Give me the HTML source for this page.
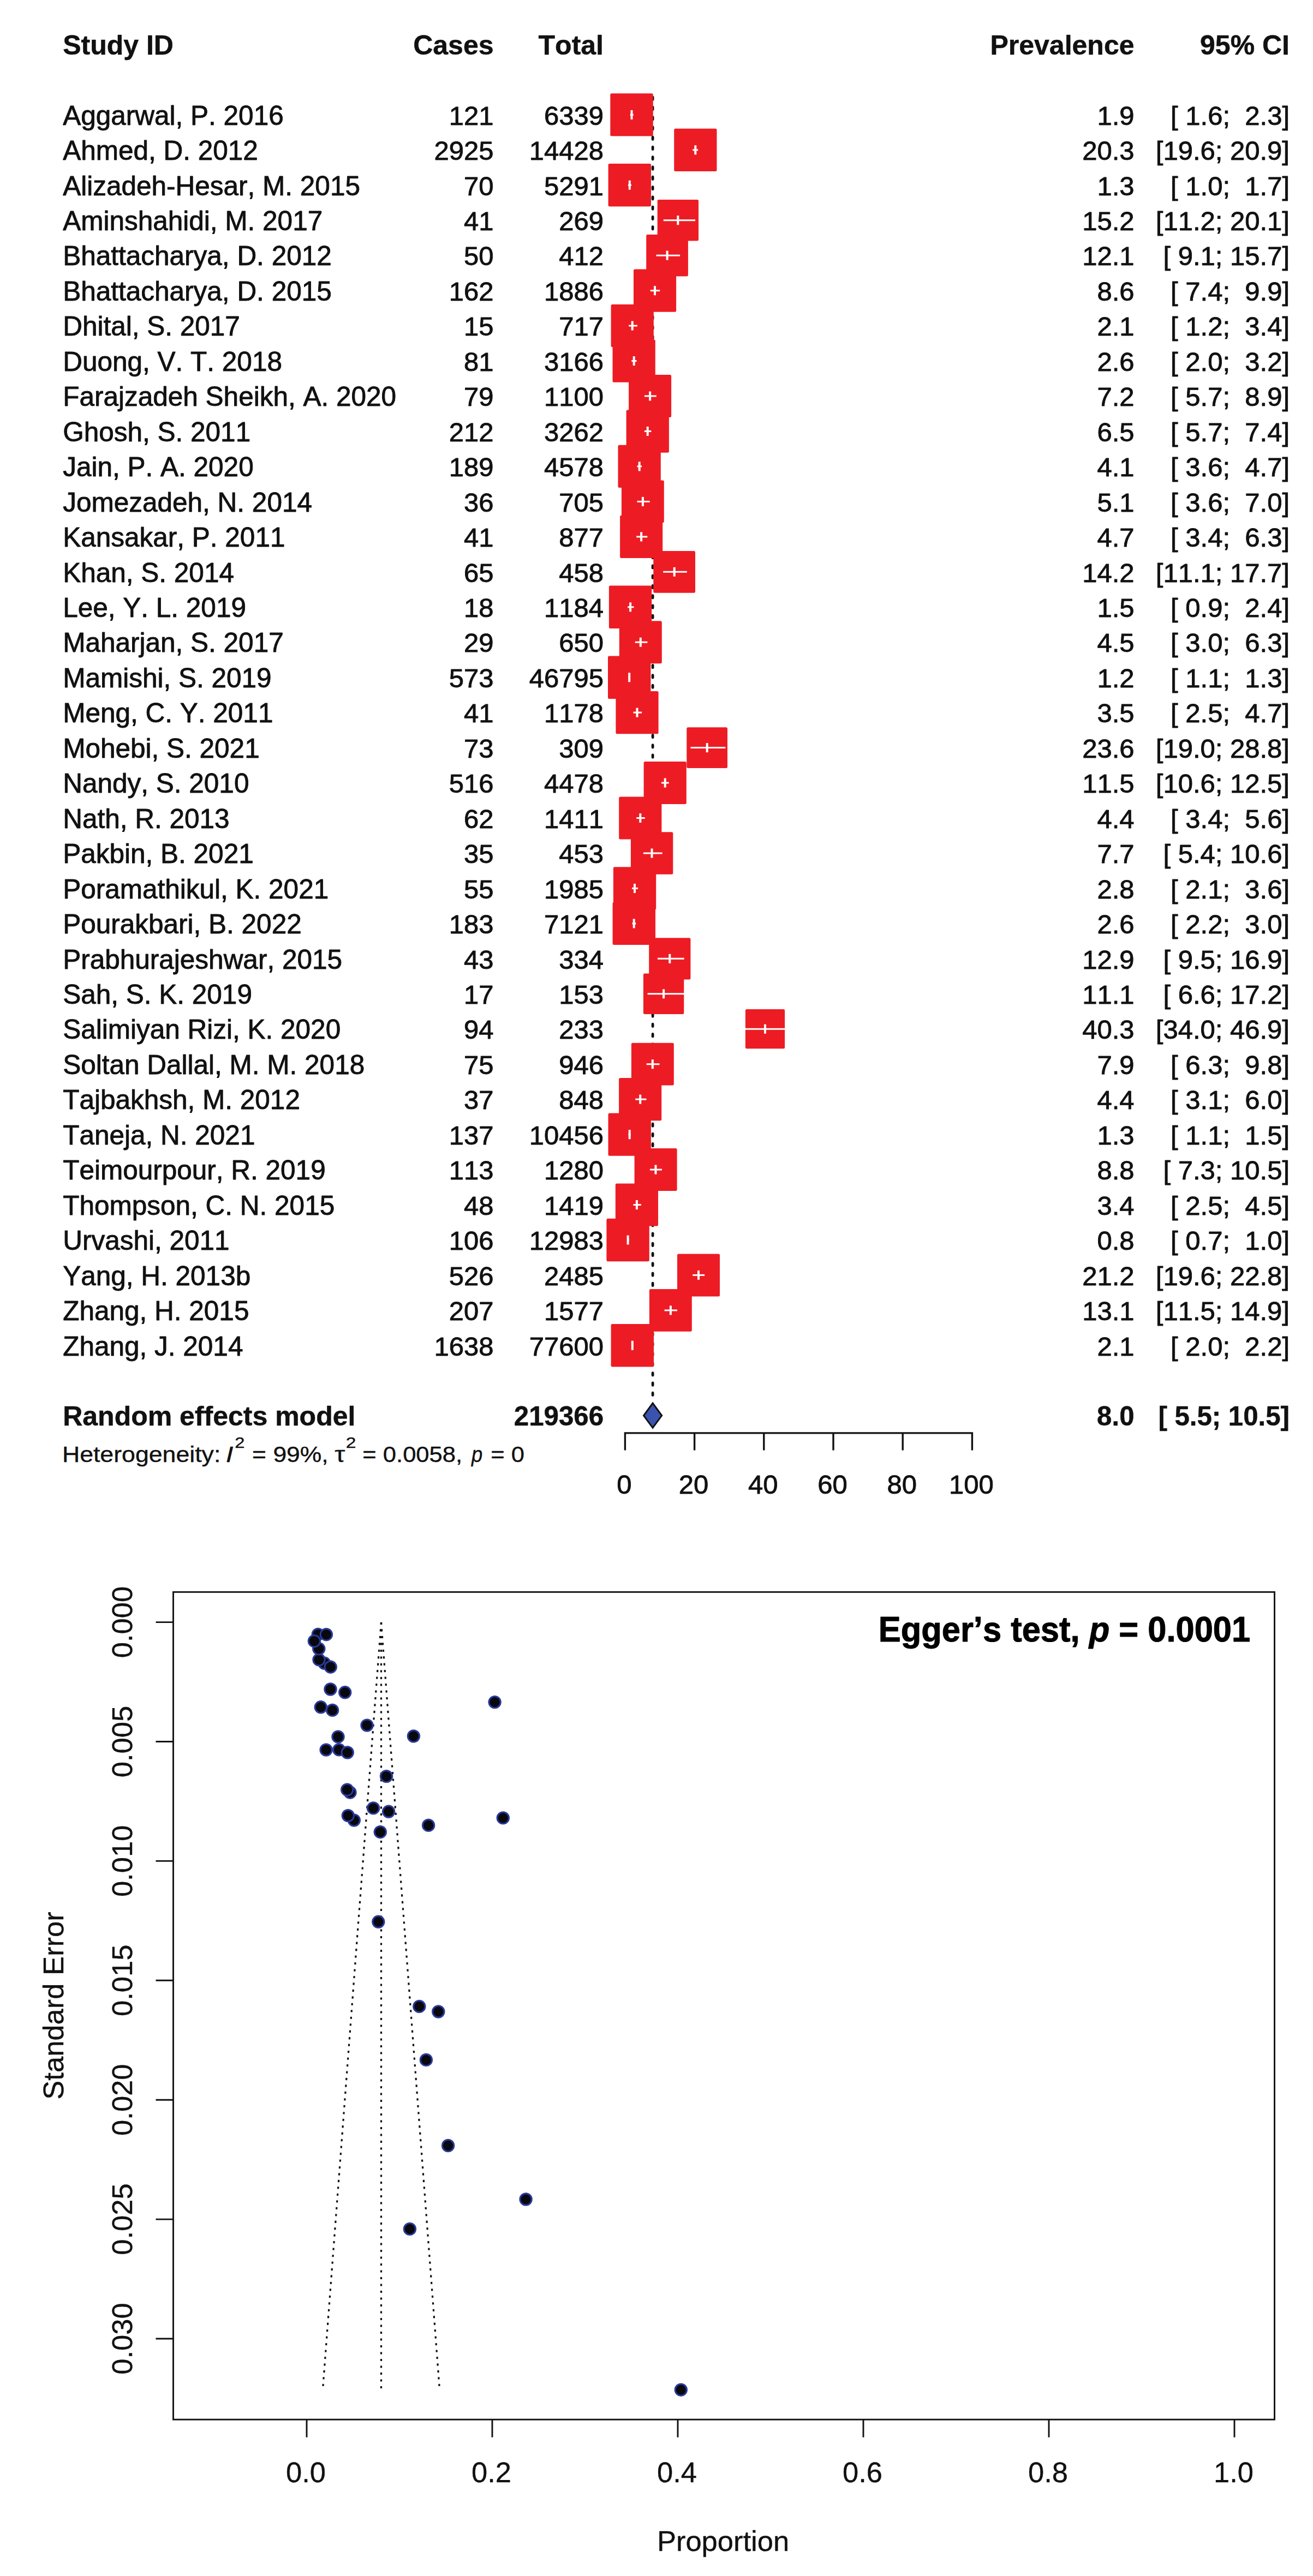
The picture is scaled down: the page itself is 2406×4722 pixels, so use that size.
<!DOCTYPE html>
<html lang="en"><head><meta charset="utf-8"><title>Forest and funnel plot</title>
<style>
html,body{margin:0;padding:0;background:#fff;}
svg{display:block;}
text{font-family:"Liberation Sans",Arial,Helvetica,sans-serif;fill:#111;white-space:pre;font-kerning:none;stroke:#111;stroke-width:0.9px;stroke-linejoin:round;}
.f{font-size:49px;}
.b{font-weight:bold;font-size:50px;stroke-width:0.5px;}
.n{font-size:49.5px;}
.e{text-anchor:end;}
.m{text-anchor:middle;}
.u{font-size:52.5px;}
.u text{stroke-width:0.4px;}
</style></head><body>
<svg width="2406" height="4722" viewBox="0 0 2406 4722">
<rect x="0" y="0" width="2406" height="4722" fill="#ffffff"/>
<g class="f">
<text class="b" x="115.2" y="100.4">Study ID</text>
<text class="b e" x="904.5" y="100.4">Cases</text>
<text class="b e" x="1106" y="100.4">Total</text>
<text class="b e" x="2078.5" y="100.4">Prevalence</text>
<text class="b e" x="2363" y="100.4">95% CI</text>
<line x1="1196.1" y1="178.1" x2="1196.1" y2="2560" stroke="#111" stroke-width="4.8" stroke-linecap="round" stroke-dasharray="4.4 13.87"/>
<text class="n" x="115.2" y="228.6">Aggarwal, P. 2016</text>
<text class="e" x="904.5" y="228.6">121</text>
<text class="e" x="1106" y="228.6">6339</text>
<text class="e" x="2078.5" y="228.6">1.9</text>
<text class="e" x="2363" y="228.6" xml:space="preserve">[ 1.6;  2.3]</text>
<text class="n" x="115.2" y="293.1">Ahmed, D. 2012</text>
<text class="e" x="904.5" y="293.1">2925</text>
<text class="e" x="1106" y="293.1">14428</text>
<text class="e" x="2078.5" y="293.1">20.3</text>
<text class="e" x="2363" y="293.1" xml:space="preserve">[19.6; 20.9]</text>
<text class="n" x="115.2" y="357.5">Alizadeh-Hesar, M. 2015</text>
<text class="e" x="904.5" y="357.5">70</text>
<text class="e" x="1106" y="357.5">5291</text>
<text class="e" x="2078.5" y="357.5">1.3</text>
<text class="e" x="2363" y="357.5" xml:space="preserve">[ 1.0;  1.7]</text>
<text class="n" x="115.2" y="422.0">Aminshahidi, M. 2017</text>
<text class="e" x="904.5" y="422.0">41</text>
<text class="e" x="1106" y="422.0">269</text>
<text class="e" x="2078.5" y="422.0">15.2</text>
<text class="e" x="2363" y="422.0" xml:space="preserve">[11.2; 20.1]</text>
<text class="n" x="115.2" y="486.4">Bhattacharya, D. 2012</text>
<text class="e" x="904.5" y="486.4">50</text>
<text class="e" x="1106" y="486.4">412</text>
<text class="e" x="2078.5" y="486.4">12.1</text>
<text class="e" x="2363" y="486.4" xml:space="preserve">[ 9.1; 15.7]</text>
<text class="n" x="115.2" y="550.9">Bhattacharya, D. 2015</text>
<text class="e" x="904.5" y="550.9">162</text>
<text class="e" x="1106" y="550.9">1886</text>
<text class="e" x="2078.5" y="550.9">8.6</text>
<text class="e" x="2363" y="550.9" xml:space="preserve">[ 7.4;  9.9]</text>
<text class="n" x="115.2" y="615.3">Dhital, S. 2017</text>
<text class="e" x="904.5" y="615.3">15</text>
<text class="e" x="1106" y="615.3">717</text>
<text class="e" x="2078.5" y="615.3">2.1</text>
<text class="e" x="2363" y="615.3" xml:space="preserve">[ 1.2;  3.4]</text>
<text class="n" x="115.2" y="679.8">Duong, V. T. 2018</text>
<text class="e" x="904.5" y="679.8">81</text>
<text class="e" x="1106" y="679.8">3166</text>
<text class="e" x="2078.5" y="679.8">2.6</text>
<text class="e" x="2363" y="679.8" xml:space="preserve">[ 2.0;  3.2]</text>
<text class="n" x="115.2" y="744.2">Farajzadeh Sheikh, A. 2020</text>
<text class="e" x="904.5" y="744.2">79</text>
<text class="e" x="1106" y="744.2">1100</text>
<text class="e" x="2078.5" y="744.2">7.2</text>
<text class="e" x="2363" y="744.2" xml:space="preserve">[ 5.7;  8.9]</text>
<text class="n" x="115.2" y="808.7">Ghosh, S. 2011</text>
<text class="e" x="904.5" y="808.7">212</text>
<text class="e" x="1106" y="808.7">3262</text>
<text class="e" x="2078.5" y="808.7">6.5</text>
<text class="e" x="2363" y="808.7" xml:space="preserve">[ 5.7;  7.4]</text>
<text class="n" x="115.2" y="873.1">Jain, P. A. 2020</text>
<text class="e" x="904.5" y="873.1">189</text>
<text class="e" x="1106" y="873.1">4578</text>
<text class="e" x="2078.5" y="873.1">4.1</text>
<text class="e" x="2363" y="873.1" xml:space="preserve">[ 3.6;  4.7]</text>
<text class="n" x="115.2" y="937.6">Jomezadeh, N. 2014</text>
<text class="e" x="904.5" y="937.6">36</text>
<text class="e" x="1106" y="937.6">705</text>
<text class="e" x="2078.5" y="937.6">5.1</text>
<text class="e" x="2363" y="937.6" xml:space="preserve">[ 3.6;  7.0]</text>
<text class="n" x="115.2" y="1002.1">Kansakar, P. 2011</text>
<text class="e" x="904.5" y="1002.1">41</text>
<text class="e" x="1106" y="1002.1">877</text>
<text class="e" x="2078.5" y="1002.1">4.7</text>
<text class="e" x="2363" y="1002.1" xml:space="preserve">[ 3.4;  6.3]</text>
<text class="n" x="115.2" y="1066.5">Khan, S. 2014</text>
<text class="e" x="904.5" y="1066.5">65</text>
<text class="e" x="1106" y="1066.5">458</text>
<text class="e" x="2078.5" y="1066.5">14.2</text>
<text class="e" x="2363" y="1066.5" xml:space="preserve">[11.1; 17.7]</text>
<text class="n" x="115.2" y="1131.0">Lee, Y. L. 2019</text>
<text class="e" x="904.5" y="1131.0">18</text>
<text class="e" x="1106" y="1131.0">1184</text>
<text class="e" x="2078.5" y="1131.0">1.5</text>
<text class="e" x="2363" y="1131.0" xml:space="preserve">[ 0.9;  2.4]</text>
<text class="n" x="115.2" y="1195.4">Maharjan, S. 2017</text>
<text class="e" x="904.5" y="1195.4">29</text>
<text class="e" x="1106" y="1195.4">650</text>
<text class="e" x="2078.5" y="1195.4">4.5</text>
<text class="e" x="2363" y="1195.4" xml:space="preserve">[ 3.0;  6.3]</text>
<text class="n" x="115.2" y="1259.9">Mamishi, S. 2019</text>
<text class="e" x="904.5" y="1259.9">573</text>
<text class="e" x="1106" y="1259.9">46795</text>
<text class="e" x="2078.5" y="1259.9">1.2</text>
<text class="e" x="2363" y="1259.9" xml:space="preserve">[ 1.1;  1.3]</text>
<text class="n" x="115.2" y="1324.3">Meng, C. Y. 2011</text>
<text class="e" x="904.5" y="1324.3">41</text>
<text class="e" x="1106" y="1324.3">1178</text>
<text class="e" x="2078.5" y="1324.3">3.5</text>
<text class="e" x="2363" y="1324.3" xml:space="preserve">[ 2.5;  4.7]</text>
<text class="n" x="115.2" y="1388.8">Mohebi, S. 2021</text>
<text class="e" x="904.5" y="1388.8">73</text>
<text class="e" x="1106" y="1388.8">309</text>
<text class="e" x="2078.5" y="1388.8">23.6</text>
<text class="e" x="2363" y="1388.8" xml:space="preserve">[19.0; 28.8]</text>
<text class="n" x="115.2" y="1453.2">Nandy, S. 2010</text>
<text class="e" x="904.5" y="1453.2">516</text>
<text class="e" x="1106" y="1453.2">4478</text>
<text class="e" x="2078.5" y="1453.2">11.5</text>
<text class="e" x="2363" y="1453.2" xml:space="preserve">[10.6; 12.5]</text>
<text class="n" x="115.2" y="1517.7">Nath, R. 2013</text>
<text class="e" x="904.5" y="1517.7">62</text>
<text class="e" x="1106" y="1517.7">1411</text>
<text class="e" x="2078.5" y="1517.7">4.4</text>
<text class="e" x="2363" y="1517.7" xml:space="preserve">[ 3.4;  5.6]</text>
<text class="n" x="115.2" y="1582.2">Pakbin, B. 2021</text>
<text class="e" x="904.5" y="1582.2">35</text>
<text class="e" x="1106" y="1582.2">453</text>
<text class="e" x="2078.5" y="1582.2">7.7</text>
<text class="e" x="2363" y="1582.2" xml:space="preserve">[ 5.4; 10.6]</text>
<text class="n" x="115.2" y="1646.6">Poramathikul, K. 2021</text>
<text class="e" x="904.5" y="1646.6">55</text>
<text class="e" x="1106" y="1646.6">1985</text>
<text class="e" x="2078.5" y="1646.6">2.8</text>
<text class="e" x="2363" y="1646.6" xml:space="preserve">[ 2.1;  3.6]</text>
<text class="n" x="115.2" y="1711.1">Pourakbari, B. 2022</text>
<text class="e" x="904.5" y="1711.1">183</text>
<text class="e" x="1106" y="1711.1">7121</text>
<text class="e" x="2078.5" y="1711.1">2.6</text>
<text class="e" x="2363" y="1711.1" xml:space="preserve">[ 2.2;  3.0]</text>
<text class="n" x="115.2" y="1775.5">Prabhurajeshwar, 2015</text>
<text class="e" x="904.5" y="1775.5">43</text>
<text class="e" x="1106" y="1775.5">334</text>
<text class="e" x="2078.5" y="1775.5">12.9</text>
<text class="e" x="2363" y="1775.5" xml:space="preserve">[ 9.5; 16.9]</text>
<text class="n" x="115.2" y="1840.0">Sah, S. K. 2019</text>
<text class="e" x="904.5" y="1840.0">17</text>
<text class="e" x="1106" y="1840.0">153</text>
<text class="e" x="2078.5" y="1840.0">11.1</text>
<text class="e" x="2363" y="1840.0" xml:space="preserve">[ 6.6; 17.2]</text>
<text class="n" x="115.2" y="1904.4">Salimiyan Rizi, K. 2020</text>
<text class="e" x="904.5" y="1904.4">94</text>
<text class="e" x="1106" y="1904.4">233</text>
<text class="e" x="2078.5" y="1904.4">40.3</text>
<text class="e" x="2363" y="1904.4" xml:space="preserve">[34.0; 46.9]</text>
<text class="n" x="115.2" y="1968.9">Soltan Dallal, M. M. 2018</text>
<text class="e" x="904.5" y="1968.9">75</text>
<text class="e" x="1106" y="1968.9">946</text>
<text class="e" x="2078.5" y="1968.9">7.9</text>
<text class="e" x="2363" y="1968.9" xml:space="preserve">[ 6.3;  9.8]</text>
<text class="n" x="115.2" y="2033.3">Tajbakhsh, M. 2012</text>
<text class="e" x="904.5" y="2033.3">37</text>
<text class="e" x="1106" y="2033.3">848</text>
<text class="e" x="2078.5" y="2033.3">4.4</text>
<text class="e" x="2363" y="2033.3" xml:space="preserve">[ 3.1;  6.0]</text>
<text class="n" x="115.2" y="2097.8">Taneja, N. 2021</text>
<text class="e" x="904.5" y="2097.8">137</text>
<text class="e" x="1106" y="2097.8">10456</text>
<text class="e" x="2078.5" y="2097.8">1.3</text>
<text class="e" x="2363" y="2097.8" xml:space="preserve">[ 1.1;  1.5]</text>
<text class="n" x="115.2" y="2162.2">Teimourpour, R. 2019</text>
<text class="e" x="904.5" y="2162.2">113</text>
<text class="e" x="1106" y="2162.2">1280</text>
<text class="e" x="2078.5" y="2162.2">8.8</text>
<text class="e" x="2363" y="2162.2" xml:space="preserve">[ 7.3; 10.5]</text>
<text class="n" x="115.2" y="2226.7">Thompson, C. N. 2015</text>
<text class="e" x="904.5" y="2226.7">48</text>
<text class="e" x="1106" y="2226.7">1419</text>
<text class="e" x="2078.5" y="2226.7">3.4</text>
<text class="e" x="2363" y="2226.7" xml:space="preserve">[ 2.5;  4.5]</text>
<text class="n" x="115.2" y="2291.2">Urvashi, 2011</text>
<text class="e" x="904.5" y="2291.2">106</text>
<text class="e" x="1106" y="2291.2">12983</text>
<text class="e" x="2078.5" y="2291.2">0.8</text>
<text class="e" x="2363" y="2291.2" xml:space="preserve">[ 0.7;  1.0]</text>
<text class="n" x="115.2" y="2355.6">Yang, H. 2013b</text>
<text class="e" x="904.5" y="2355.6">526</text>
<text class="e" x="1106" y="2355.6">2485</text>
<text class="e" x="2078.5" y="2355.6">21.2</text>
<text class="e" x="2363" y="2355.6" xml:space="preserve">[19.6; 22.8]</text>
<text class="n" x="115.2" y="2420.1">Zhang, H. 2015</text>
<text class="e" x="904.5" y="2420.1">207</text>
<text class="e" x="1106" y="2420.1">1577</text>
<text class="e" x="2078.5" y="2420.1">13.1</text>
<text class="e" x="2363" y="2420.1" xml:space="preserve">[11.5; 14.9]</text>
<text class="n" x="115.2" y="2484.5">Zhang, J. 2014</text>
<text class="e" x="904.5" y="2484.5">1638</text>
<text class="e" x="1106" y="2484.5">77600</text>
<text class="e" x="2078.5" y="2484.5">2.1</text>
<text class="e" x="2363" y="2484.5" xml:space="preserve">[ 2.0;  2.2]</text>
<rect x="1118.3" y="171.2" width="78.4" height="78.4" rx="2.5" fill="#ED1C24"/>
<path d="M1154.8 210.4H1160.8" stroke="#fff" stroke-width="3" fill="none"/><path d="M1157.5 201.9V218.9" stroke="#fff" stroke-width="4" fill="none"/>
<rect x="1235.2" y="235.7" width="78.3" height="78.3" rx="2.5" fill="#ED1C24"/>
<path d="M1269.3 274.9H1279.1" stroke="#fff" stroke-width="3" fill="none"/><path d="M1274.3 266.4V283.4" stroke="#fff" stroke-width="4" fill="none"/>
<rect x="1114.6" y="300.1" width="78.4" height="78.4" rx="2.5" fill="#ED1C24"/>
<path d="M1151.0 339.3H1157.0" stroke="#fff" stroke-width="3" fill="none"/><path d="M1153.8 330.8V347.8" stroke="#fff" stroke-width="4" fill="none"/>
<rect x="1204.7" y="366.1" width="75.3" height="75.3" rx="2.5" fill="#ED1C24"/>
<path d="M1215.8 403.8H1274.0" stroke="#fff" stroke-width="3" fill="none"/><path d="M1242.3 395.3V412.3" stroke="#fff" stroke-width="4" fill="none"/>
<rect x="1184.2" y="429.9" width="76.7" height="76.7" rx="2.5" fill="#ED1C24"/>
<path d="M1202.5 468.2H1246.1" stroke="#fff" stroke-width="3" fill="none"/><path d="M1222.6 459.7V476.7" stroke="#fff" stroke-width="4" fill="none"/>
<rect x="1161.0" y="493.6" width="78.1" height="78.1" rx="2.5" fill="#ED1C24"/>
<path d="M1191.7 532.7H1209.2" stroke="#fff" stroke-width="3" fill="none"/><path d="M1200.0 524.2V541.2" stroke="#fff" stroke-width="4" fill="none"/>
<rect x="1119.6" y="558.0" width="78.2" height="78.2" rx="2.5" fill="#ED1C24"/>
<path d="M1152.2 597.1H1167.8" stroke="#fff" stroke-width="3" fill="none"/><path d="M1158.7 588.6V605.6" stroke="#fff" stroke-width="4" fill="none"/>
<rect x="1122.5" y="622.4" width="78.3" height="78.3" rx="2.5" fill="#ED1C24"/>
<path d="M1157.3 661.6H1166.6" stroke="#fff" stroke-width="3" fill="none"/><path d="M1161.7 653.1V670.1" stroke="#fff" stroke-width="4" fill="none"/>
<rect x="1152.1" y="687.0" width="78.0" height="78.0" rx="2.5" fill="#ED1C24"/>
<path d="M1180.9 726.0H1202.8" stroke="#fff" stroke-width="3" fill="none"/><path d="M1191.1 717.5V734.5" stroke="#fff" stroke-width="4" fill="none"/>
<rect x="1147.6" y="751.4" width="78.3" height="78.3" rx="2.5" fill="#ED1C24"/>
<path d="M1180.9 790.5H1193.3" stroke="#fff" stroke-width="3" fill="none"/><path d="M1186.7 782.0V799.0" stroke="#fff" stroke-width="4" fill="none"/>
<rect x="1132.5" y="815.8" width="78.3" height="78.3" rx="2.5" fill="#ED1C24"/>
<path d="M1167.5 854.9H1176.1" stroke="#fff" stroke-width="3" fill="none"/><path d="M1171.7 846.4V863.4" stroke="#fff" stroke-width="4" fill="none"/>
<rect x="1138.9" y="880.4" width="77.9" height="77.9" rx="2.5" fill="#ED1C24"/>
<path d="M1167.5 919.4H1190.7" stroke="#fff" stroke-width="3" fill="none"/><path d="M1177.9 910.9V927.9" stroke="#fff" stroke-width="4" fill="none"/>
<rect x="1136.1" y="944.8" width="78.1" height="78.1" rx="2.5" fill="#ED1C24"/>
<path d="M1166.2 983.9H1186.3" stroke="#fff" stroke-width="3" fill="none"/><path d="M1175.1 975.4V992.4" stroke="#fff" stroke-width="4" fill="none"/>
<rect x="1197.3" y="1010.0" width="76.7" height="76.7" rx="2.5" fill="#ED1C24"/>
<path d="M1215.2 1048.3H1258.8" stroke="#fff" stroke-width="3" fill="none"/><path d="M1235.7 1039.8V1056.8" stroke="#fff" stroke-width="4" fill="none"/>
<rect x="1115.9" y="1073.6" width="78.3" height="78.3" rx="2.5" fill="#ED1C24"/>
<path d="M1150.3 1112.8H1161.5" stroke="#fff" stroke-width="3" fill="none"/><path d="M1155.1 1104.3V1121.3" stroke="#fff" stroke-width="4" fill="none"/>
<rect x="1134.8" y="1138.2" width="78.0" height="78.0" rx="2.5" fill="#ED1C24"/>
<path d="M1163.7 1177.2H1186.3" stroke="#fff" stroke-width="3" fill="none"/><path d="M1173.8 1168.7V1185.7" stroke="#fff" stroke-width="4" fill="none"/>
<rect x="1114.0" y="1202.5" width="78.4" height="78.4" rx="2.5" fill="#ED1C24"/>
<path d="M1151.6 1241.7H1154.5" stroke="#fff" stroke-width="3" fill="none"/><path d="M1153.2 1233.2V1250.2" stroke="#fff" stroke-width="4" fill="none"/>
<rect x="1128.4" y="1267.0" width="78.2" height="78.2" rx="2.5" fill="#ED1C24"/>
<path d="M1160.5 1306.1H1176.1" stroke="#fff" stroke-width="3" fill="none"/><path d="M1167.5 1297.6V1314.6" stroke="#fff" stroke-width="4" fill="none"/>
<rect x="1258.3" y="1333.2" width="74.7" height="74.7" rx="2.5" fill="#ED1C24"/>
<path d="M1265.4 1370.6H1329.4" stroke="#fff" stroke-width="3" fill="none"/><path d="M1295.7 1362.1V1379.1" stroke="#fff" stroke-width="4" fill="none"/>
<rect x="1179.6" y="1395.9" width="78.2" height="78.2" rx="2.5" fill="#ED1C24"/>
<path d="M1212.0 1435.0H1225.7" stroke="#fff" stroke-width="3" fill="none"/><path d="M1218.7 1426.5V1443.5" stroke="#fff" stroke-width="4" fill="none"/>
<rect x="1134.2" y="1460.4" width="78.2" height="78.2" rx="2.5" fill="#ED1C24"/>
<path d="M1166.2 1499.5H1181.8" stroke="#fff" stroke-width="3" fill="none"/><path d="M1173.3 1491.0V1508.0" stroke="#fff" stroke-width="4" fill="none"/>
<rect x="1155.9" y="1525.3" width="77.4" height="77.4" rx="2.5" fill="#ED1C24"/>
<path d="M1178.9 1564.0H1213.6" stroke="#fff" stroke-width="3" fill="none"/><path d="M1194.5 1555.5V1572.5" stroke="#fff" stroke-width="4" fill="none"/>
<rect x="1123.9" y="1589.3" width="78.3" height="78.3" rx="2.5" fill="#ED1C24"/>
<path d="M1158.0 1628.4H1169.1" stroke="#fff" stroke-width="3" fill="none"/><path d="M1163.0 1619.9V1636.9" stroke="#fff" stroke-width="4" fill="none"/>
<rect x="1122.6" y="1653.7" width="78.4" height="78.4" rx="2.5" fill="#ED1C24"/>
<path d="M1158.6 1692.9H1165.3" stroke="#fff" stroke-width="3" fill="none"/><path d="M1161.7 1684.4V1701.4" stroke="#fff" stroke-width="4" fill="none"/>
<rect x="1189.2" y="1719.2" width="76.2" height="76.2" rx="2.5" fill="#ED1C24"/>
<path d="M1205.0 1757.3H1253.7" stroke="#fff" stroke-width="3" fill="none"/><path d="M1227.3 1748.8V1765.8" stroke="#fff" stroke-width="4" fill="none"/>
<rect x="1178.9" y="1784.6" width="74.4" height="74.4" rx="2.5" fill="#ED1C24"/>
<path d="M1186.6 1821.8H1254.1" stroke="#fff" stroke-width="3" fill="none"/><path d="M1216.1 1813.3V1830.3" stroke="#fff" stroke-width="4" fill="none"/>
<rect x="1365.9" y="1850.1" width="72.2" height="72.2" rx="2.5" fill="#ED1C24"/>
<path d="M1365.1 1886.2H1438.9" stroke="#fff" stroke-width="3" fill="none"/><path d="M1402.0 1877.7V1894.7" stroke="#fff" stroke-width="4" fill="none"/>
<rect x="1156.9" y="1911.7" width="77.9" height="77.9" rx="2.5" fill="#ED1C24"/>
<path d="M1184.7 1950.7H1208.5" stroke="#fff" stroke-width="3" fill="none"/><path d="M1195.8 1942.2V1959.2" stroke="#fff" stroke-width="4" fill="none"/>
<rect x="1134.1" y="1976.1" width="78.1" height="78.1" rx="2.5" fill="#ED1C24"/>
<path d="M1164.3 2015.1H1184.4" stroke="#fff" stroke-width="3" fill="none"/><path d="M1173.2 2006.6V2023.6" stroke="#fff" stroke-width="4" fill="none"/>
<rect x="1114.5" y="2040.4" width="78.4" height="78.4" rx="2.5" fill="#ED1C24"/>
<path d="M1151.6 2079.6H1155.7" stroke="#fff" stroke-width="3" fill="none"/><path d="M1153.7 2071.1V2088.1" stroke="#fff" stroke-width="4" fill="none"/>
<rect x="1162.6" y="2105.1" width="78.0" height="78.0" rx="2.5" fill="#ED1C24"/>
<path d="M1191.0 2144.0H1213.0" stroke="#fff" stroke-width="3" fill="none"/><path d="M1201.5 2135.5V2152.5" stroke="#fff" stroke-width="4" fill="none"/>
<rect x="1127.8" y="2169.4" width="78.2" height="78.2" rx="2.5" fill="#ED1C24"/>
<path d="M1160.5 2208.5H1174.8" stroke="#fff" stroke-width="3" fill="none"/><path d="M1166.9 2200.0V2217.0" stroke="#fff" stroke-width="4" fill="none"/>
<rect x="1111.4" y="2233.8" width="78.4" height="78.4" rx="2.5" fill="#ED1C24"/>
<path d="M1149.1 2273.0H1152.6" stroke="#fff" stroke-width="3" fill="none"/><path d="M1150.6 2264.5V2281.5" stroke="#fff" stroke-width="4" fill="none"/>
<rect x="1241.0" y="2298.4" width="78.0" height="78.0" rx="2.5" fill="#ED1C24"/>
<path d="M1269.3 2337.4H1291.2" stroke="#fff" stroke-width="3" fill="none"/><path d="M1280.0 2328.9V2345.9" stroke="#fff" stroke-width="4" fill="none"/>
<rect x="1189.9" y="2362.9" width="77.9" height="77.9" rx="2.5" fill="#ED1C24"/>
<path d="M1217.7 2401.9H1241.0" stroke="#fff" stroke-width="3" fill="none"/><path d="M1228.9 2393.4V2410.4" stroke="#fff" stroke-width="4" fill="none"/>
<rect x="1119.6" y="2427.1" width="78.4" height="78.4" rx="2.5" fill="#ED1C24"/>
<path d="M1157.3 2466.3H1160.2" stroke="#fff" stroke-width="3" fill="none"/><path d="M1158.8 2457.8V2474.8" stroke="#fff" stroke-width="4" fill="none"/>
<text class="b" x="115.2" y="2613">Random effects model</text>
<text class="b e" style="font-size:49.2px" x="1106" y="2613">219366</text>
<text class="b e" style="font-size:49.2px" x="2078.5" y="2613">8.0</text>
<text class="b e" style="font-size:49.2px" x="2363" y="2613" xml:space="preserve">[ 5.5; 10.5]</text>
<text x="113.9" y="2679.5" style="font-size:40px;stroke-width:0.4px" textLength="290.4" lengthAdjust="spacingAndGlyphs">Heterogeneity:</text>
<text x="413.8" y="2679.5" font-style="italic" style="font-size:40px;stroke-width:0.4px" textLength="13.7" lengthAdjust="spacingAndGlyphs">I</text>
<text x="430.2" y="2653.9" style="font-size:27.5px;stroke-width:0.4px" textLength="18.2" lengthAdjust="spacingAndGlyphs">2</text>
<text x="462.1" y="2679.5" style="font-size:40px;stroke-width:0.4px" textLength="139.6" lengthAdjust="spacingAndGlyphs">= 99%,</text>
<text x="613.2" y="2679.5" style="font-size:40px;stroke-width:0.4px" textLength="19.1" lengthAdjust="spacingAndGlyphs">τ</text>
<text x="633.8" y="2653.9" style="font-size:27.5px;stroke-width:0.4px" textLength="18.7" lengthAdjust="spacingAndGlyphs">2</text>
<text x="664.3" y="2679.5" style="font-size:40px;stroke-width:0.4px" textLength="182.8" lengthAdjust="spacingAndGlyphs">= 0.0058,</text>
<text x="864.1" y="2679.5" font-style="italic" style="font-size:40px;stroke-width:0.4px" textLength="20.2" lengthAdjust="spacingAndGlyphs">p</text>
<text x="899.2" y="2679.5" style="font-size:40px;stroke-width:0.4px" textLength="61.7" lengthAdjust="spacingAndGlyphs">= 0</text>
<path d="M1179.5 2594.8L1196.1 2572.0L1212.7 2594.8L1196.1 2617.3Z" fill="#3A53AE" stroke="#111" stroke-width="3" stroke-linejoin="miter"/>
<path d="M1145.4 2658.4V2626.9H1781.4V2658.4M1272.6 2626.9V2658.4M1399.8 2626.9V2658.4M1527.0 2626.9V2658.4M1654.2 2626.9V2658.4" stroke="#111" stroke-width="3.4" fill="none"/>
<text class="m" x="1143.9" y="2738.2">0</text>
<text class="m" x="1271.1" y="2738.2">20</text>
<text class="m" x="1398.3" y="2738.2">40</text>
<text class="m" x="1525.5" y="2738.2">60</text>
<text class="m" x="1652.7" y="2738.2">80</text>
<text class="m" x="1779.9" y="2738.2">100</text>
</g>
<g class="u">
<rect x="317.5" y="2918.3" width="2018" height="1516.9" fill="none" stroke="#111" stroke-width="2.9"/>
<path d="M317.5 2973.6H285.5M317.5 3192.5H285.5M317.5 3411.4H285.5M317.5 3630.3H285.5M317.5 3849.2H285.5M317.5 4068.1H285.5M317.5 4287.0H285.5M562.0 4435.2V4467.7M902.0 4435.2V4467.7M1242.0 4435.2V4467.7M1582.0 4435.2V4467.7M1922.0 4435.2V4467.7M2262.0 4435.2V4467.7" stroke="#111" stroke-width="2.9" fill="none"/>
<text class="m" transform="translate(242 2973.6) rotate(-90)">0.000</text>
<text class="m" transform="translate(242 3192.5) rotate(-90)">0.005</text>
<text class="m" transform="translate(242 3411.4) rotate(-90)">0.010</text>
<text class="m" transform="translate(242 3630.3) rotate(-90)">0.015</text>
<text class="m" transform="translate(242 3849.2) rotate(-90)">0.020</text>
<text class="m" transform="translate(242 4068.1) rotate(-90)">0.025</text>
<text class="m" transform="translate(242 4287.0) rotate(-90)">0.030</text>
<text class="m" x="560.5" y="4550.4">0.0</text>
<text class="m" x="900.5" y="4550.4">0.2</text>
<text class="m" x="1240.5" y="4550.4">0.4</text>
<text class="m" x="1580.5" y="4550.4">0.6</text>
<text class="m" x="1920.5" y="4550.4">0.8</text>
<text class="m" x="2260.5" y="4550.4">1.0</text>
<text class="m" x="1325" y="4676.1">Proportion</text>
<text class="m" transform="translate(115.5 3676.5) rotate(-90)">Standard Error</text>
<line x1="698.5" y1="2973.9" x2="591.4" y2="4381.0" stroke="#111" stroke-width="3.2" stroke-dasharray="4.1 8.4"/>
<line x1="698.5" y1="2973.9" x2="698.5" y2="4381.0" stroke="#111" stroke-width="3.2" stroke-dasharray="4.1 8.4"/>
<line x1="698.5" y1="2973.9" x2="805.6" y2="4381.0" stroke="#111" stroke-width="3.2" stroke-dasharray="4.1 8.4"/>
<circle cx="594.4" cy="3048.8" r="10.7" fill="#08080f" stroke="#2A3A9A" stroke-width="3"/>
<circle cx="906.6" cy="3120.1" r="10.7" fill="#08080f" stroke="#2A3A9A" stroke-width="3"/>
<circle cx="584.5" cy="3042.4" r="10.7" fill="#08080f" stroke="#2A3A9A" stroke-width="3"/>
<circle cx="821.1" cy="3933.0" r="10.7" fill="#08080f" stroke="#2A3A9A" stroke-width="3"/>
<circle cx="768.3" cy="3677.9" r="10.7" fill="#08080f" stroke="#2A3A9A" stroke-width="3"/>
<circle cx="708.0" cy="3256.1" r="10.7" fill="#08080f" stroke="#2A3A9A" stroke-width="3"/>
<circle cx="597.6" cy="3207.6" r="10.7" fill="#08080f" stroke="#2A3A9A" stroke-width="3"/>
<circle cx="605.5" cy="3096.5" r="10.7" fill="#08080f" stroke="#2A3A9A" stroke-width="3"/>
<circle cx="684.1" cy="3314.4" r="10.7" fill="#08080f" stroke="#2A3A9A" stroke-width="3"/>
<circle cx="672.5" cy="3162.6" r="10.7" fill="#08080f" stroke="#2A3A9A" stroke-width="3"/>
<circle cx="632.2" cy="3102.3" r="10.7" fill="#08080f" stroke="#2A3A9A" stroke-width="3"/>
<circle cx="648.8" cy="3336.6" r="10.7" fill="#08080f" stroke="#2A3A9A" stroke-width="3"/>
<circle cx="641.5" cy="3285.7" r="10.7" fill="#08080f" stroke="#2A3A9A" stroke-width="3"/>
<circle cx="803.3" cy="3687.5" r="10.7" fill="#08080f" stroke="#2A3A9A" stroke-width="3"/>
<circle cx="587.8" cy="3129.3" r="10.7" fill="#08080f" stroke="#2A3A9A" stroke-width="3"/>
<circle cx="637.8" cy="3328.1" r="10.7" fill="#08080f" stroke="#2A3A9A" stroke-width="3"/>
<circle cx="582.8" cy="2995.9" r="10.7" fill="#08080f" stroke="#2A3A9A" stroke-width="3"/>
<circle cx="621.2" cy="3207.4" r="10.7" fill="#08080f" stroke="#2A3A9A" stroke-width="3"/>
<circle cx="963.6" cy="4031.5" r="10.7" fill="#08080f" stroke="#2A3A9A" stroke-width="3"/>
<circle cx="757.9" cy="3182.5" r="10.7" fill="#08080f" stroke="#2A3A9A" stroke-width="3"/>
<circle cx="636.7" cy="3212.5" r="10.7" fill="#08080f" stroke="#2A3A9A" stroke-width="3"/>
<circle cx="693.3" cy="3522.8" r="10.7" fill="#08080f" stroke="#2A3A9A" stroke-width="3"/>
<circle cx="609.1" cy="3134.9" r="10.7" fill="#08080f" stroke="#2A3A9A" stroke-width="3"/>
<circle cx="605.7" cy="3055.7" r="10.7" fill="#08080f" stroke="#2A3A9A" stroke-width="3"/>
<circle cx="780.9" cy="3775.9" r="10.7" fill="#08080f" stroke="#2A3A9A" stroke-width="3"/>
<circle cx="750.9" cy="4085.9" r="10.7" fill="#08080f" stroke="#2A3A9A" stroke-width="3"/>
<circle cx="1247.8" cy="4380.7" r="10.7" fill="#08080f" stroke="#2A3A9A" stroke-width="3"/>
<circle cx="696.8" cy="3358.2" r="10.7" fill="#08080f" stroke="#2A3A9A" stroke-width="3"/>
<circle cx="636.2" cy="3280.7" r="10.7" fill="#08080f" stroke="#2A3A9A" stroke-width="3"/>
<circle cx="584.3" cy="3022.3" r="10.7" fill="#08080f" stroke="#2A3A9A" stroke-width="3"/>
<circle cx="712.1" cy="3320.8" r="10.7" fill="#08080f" stroke="#2A3A9A" stroke-width="3"/>
<circle cx="619.5" cy="3183.7" r="10.7" fill="#08080f" stroke="#2A3A9A" stroke-width="3"/>
<circle cx="575.9" cy="3008.2" r="10.7" fill="#08080f" stroke="#2A3A9A" stroke-width="3"/>
<circle cx="921.8" cy="3332.4" r="10.7" fill="#08080f" stroke="#2A3A9A" stroke-width="3"/>
<circle cx="785.1" cy="3345.9" r="10.7" fill="#08080f" stroke="#2A3A9A" stroke-width="3"/>
<circle cx="597.9" cy="2996.2" r="10.7" fill="#08080f" stroke="#2A3A9A" stroke-width="3"/>
<text class="b" x="1609.7" y="3009" style="font-size:64px;fill:#000;stroke:#000;stroke-width:1px" textLength="681.5" lengthAdjust="spacingAndGlyphs">Egger’s test, <tspan font-style="italic">p</tspan> = 0.0001</text>
</g>
</svg></body></html>
